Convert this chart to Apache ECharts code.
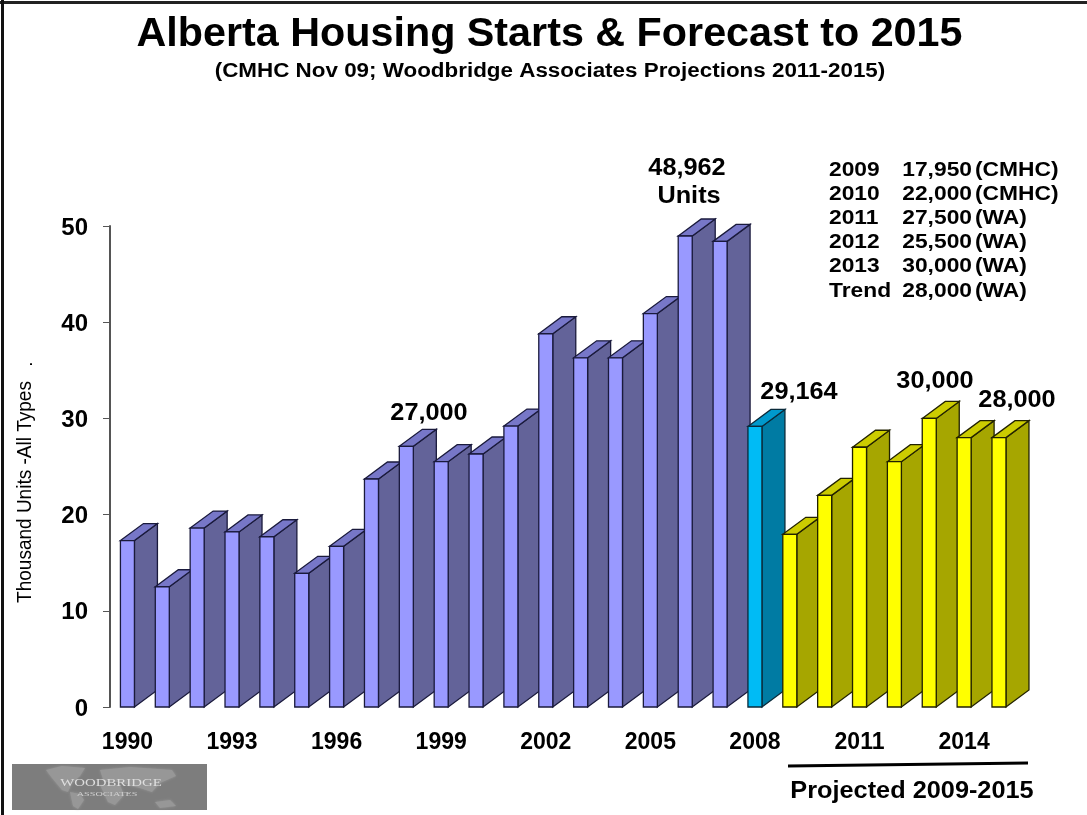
<!DOCTYPE html>
<html><head><meta charset="utf-8">
<style>html,body{margin:0;padding:0;background:#fff}#c{width:1087px;height:815px}</style>
<script src="https://cdn.jsdelivr.net/npm/echarts@6/dist/echarts.min.js"></script>
</head><body><div id="c"></div>
<script>
const years = ['1990','1991','1992','1993','1994','1995','1996','1997','1998','1999','2000','2001','2002','2003','2004','2005','2006','2007','2008','2009','2010','2011','2012','2013','2014','2015'];
const starts = [17.3,12.5,18.6,18.2,17.7,13.9,16.7,23.7,27.1,25.5,26.3,29.2,38.8,36.3,36.3,40.9,48.962,48.4,29.164,17.95,22,27,25.5,30,28,28];
const groups = ['h','h','h','h','h','h','h','h','h','h','h','h','h','h','h','h','h','h','c','p','p','p','p','p','p','p'];
const palette = {
  h:{front:'#9999FF',side:'#636399',top:'#7777C8',edge:'#1a1a3c'},
  c:{front:'#00BBF5',side:'#007BA3',top:'#0099CC',edge:'#0a2a3a'},
  p:{front:'#FFFF00',side:'#A6A600',top:'#CCCC00',edge:'#222200'}
};
const tableRows = [
  ['2009','17,950','(CMHC)'],['2010','22,000','(CMHC)'],['2011','27,500','(WA)'],
  ['2012','25,500','(WA)'],['2013','30,000','(WA)'],['Trend','28,000','(WA)']
];
const callouts = [
  ['48,962',687,169],['Units',689,197],['27,000',429,414],['29,164',799,393],['30,000',935,382],['28,000',1017,401]
];
const FF = '"Liberation Sans", Arial, sans-serif';
const DX = 23, DY = 17, FRONT = 14;

function renderBar(params, api){
  const i = api.value(0), v = api.value(1);
  const p = api.coord([i, v]), b = api.coord([i, 0]);
  const x0 = p[0]-FRONT/2, x1 = p[0]+FRONT/2, yt = p[1], yb = b[1];
  const c = palette[groups[i]];
  const st = (fill)=>({fill, stroke:c.edge, lineWidth:1.3});
  return {type:'group', children:[
    {type:'polygon', shape:{points:[[x1,yt],[x1+DX,yt-DY],[x1+DX,yb-DY],[x1,yb]]}, style:st(c.side)},
    {type:'polygon', shape:{points:[[x0,yt],[x0+DX,yt-DY],[x1+DX,yt-DY],[x1,yt]]}, style:st(c.top)},
    {type:'rect', shape:{x:x0,y:yt,width:FRONT,height:yb-yt}, style:st(c.front)}
  ]};
}
const t = (text,x,y,size,sx,extra)=>({type:'text',x,y,scaleX:sx||1,style:Object.assign({text,font:`bold ${size}px ${FF}`,fill:'#000',textAlign:'center',textVerticalAlign:'middle'},extra||{})});
const land = (points)=>({type:'polygon',shape:{points},style:{fill:'#979797',shadowBlur:3,shadowColor:'#979797'}});
const graphic = [
  {type:'line',shape:{x1:0,y1:2.5,x2:1087,y2:2.5},style:{stroke:'#222',lineWidth:3}},
  {type:'line',shape:{x1:2.5,y1:0,x2:2.5,y2:815},style:{stroke:'#111',lineWidth:3}},
  t('Alberta Housing Starts & Forecast to 2015',549.5,35,41,1.007),
  t('(CMHC Nov 09; Woodbridge Associates Projections 2011-2015)',550,71,20,1.12),
  {type:'text',x:25,y:492,rotation:Math.PI/2,scaleX:0.905,style:{text:'Thousand Units -All Types',font:`21px ${FF}`,fill:'#000',textAlign:'center',textVerticalAlign:'middle'}},
  {type:'text',x:27,y:364,rotation:Math.PI/2,style:{text:'.',font:`19px ${FF}`,fill:'#000',textAlign:'center',textVerticalAlign:'middle'}},
  {type:'line',shape:{x1:788,y1:766,x2:1028,y2:763},style:{stroke:'#000',lineWidth:3}},
  t('Projected 2009-2015',912,792,23,1.1),
  {type:'rect',shape:{x:12,y:764,width:195,height:46},style:{fill:'#7d7d7d'}},
  land([[46,770],[62,766],[85,768],[80,776],[72,783],[68,792],[62,790],[52,778]]),
  land([[70,792],[80,794],[84,800],[78,809],[73,806]]),
  land([[100,770],[130,767],[172,770],[176,776],[160,783],[152,792],[140,788],[132,786],[120,782],[104,782]]),
  land([[100,785],[120,785],[124,795],[115,805],[108,802]]),
  land([[155,802],[170,800],[176,806],[160,808]]),
  {type:'text',x:111,y:783,scaleX:1.35,style:{text:'WOODBRIDGE',font:`11px "Liberation Serif", serif`,fill:'#dedede',textAlign:'center',textVerticalAlign:'middle'}},
  {type:'text',x:107,y:794,scaleX:1.7,style:{text:'ASSOCIATES',font:`6px "Liberation Serif", serif`,fill:'#cfcfcf',textAlign:'center',textVerticalAlign:'middle'}}
];
callouts.forEach(c=>graphic.push(t(c[0],c[1],c[2],23,1.1)));
tableRows.forEach((r,i)=>{
  const y = 170+i*24.2;
  graphic.push(t(r[0],829,y,20,1.14,{textAlign:'left'}));
  graphic.push(t(r[1],972,y,20,1.14,{textAlign:'right'}));
  graphic.push(t(r[2],975,y,20,1.14,{textAlign:'left'}));
});
const chart = echarts.init(document.getElementById('c'),null,{renderer:'canvas'});
chart.setOption({
  animation:false,
  backgroundColor:'#fff',
  grid:{left:110,top:226,width:906.4,height:481,containLabel:false},
  xAxis:{type:'category',data:years,
    axisLine:{show:false},axisTick:{show:false},
    axisLabel:{interval:2,margin:24,color:'#000',fontFamily:FF,fontWeight:'bold',fontSize:23}},
  yAxis:{type:'value',min:0,max:50,interval:10,
    axisLine:{show:true,lineStyle:{color:'#555',width:2}},
    axisTick:{show:true,length:7,lineStyle:{color:'#555',width:1}},
    splitLine:{show:false},
    axisLabel:{margin:22,color:'#000',fontFamily:FF,fontWeight:'bold',fontSize:24,verticalAlign:'top',lineHeight:4}},
  series:[{type:'custom',renderItem:renderBar,data:years.map((y,i)=>[i,starts[i]]),encode:{x:0,y:1},clip:false}],
  graphic
});
</script></body></html>
